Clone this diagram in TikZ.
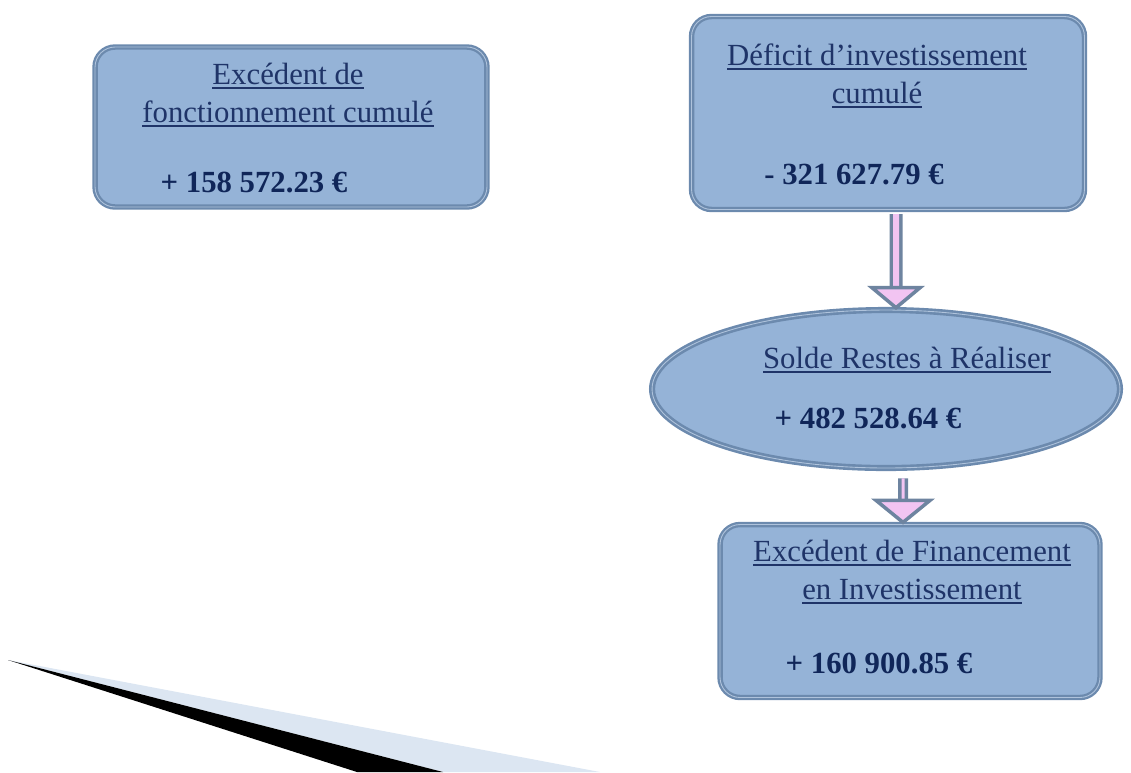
\documentclass[tikz,border=0pt]{standalone}
\usepackage{fontspec}
\setmainfont{Liberation Serif}
\usetikzlibrary{shapes.geometric}
\definecolor{BoxFill}{HTML}{95B3D7}
\definecolor{BoxEdge}{HTML}{6C8AAE}
\definecolor{BoxEdgeIn}{HTML}{AFC3DC}
\definecolor{TitleBlue}{HTML}{1F3468}
\definecolor{ValueBlue}{HTML}{102659}
\definecolor{ArrowEdge}{HTML}{6E84A0}
\definecolor{ArrowPink}{HTML}{F2C4F2}
\definecolor{WedgePale}{HTML}{DCE6F2}
\newcommand{\ulin}[1]{\setbox0\hbox{#1}\rlap{\rule[-2.4pt]{\wd0}{1pt}}\box0}

\begin{document}
\begin{tikzpicture}[x=0.02cm, y=-0.02cm,
                    every node/.style={inner sep=0pt},
                    box/.style={rectangle, rounded corners=0.4cm, fill=BoxFill,
                                draw=BoxEdge, double=BoxEdgeIn, double distance=0.5pt, line width=1.3pt},
                    oval/.style={ellipse, fill=BoxFill,
                                 draw=BoxEdge, double=BoxEdgeIn, double distance=0.5pt, line width=1.5pt},
                    title/.style={align=center, text=TitleBlue, font=\fontsize{17.5}{21.5}\selectfont},
                    value/.style={text=ValueBlue, font=\fontsize{17.5}{21.5}\selectfont\bfseries},
                    shaft/.style={draw=ArrowEdge, double=ArrowPink, line width=0.07cm, double distance=0.12cm},
                    head/.style={draw=ArrowEdge, fill=ArrowPink, line width=0.07cm, line join=miter}]
\useasboundingbox (0,0) rectangle (1131,772);

% wedge, bottom left
\fill[WedgePale] (8,660) -- (600,772) -- (443,772) -- cycle;
\fill[black] (8,660) -- (443,772) -- (357,772) -- cycle;

% left box
\node[box, minimum width=7.84cm, minimum height=3.2cm] (excfonct) at (291,127) {};
\node[title] (excfonctT) at (288,95) {\ulin{Excédent de}\\\ulin{fonctionnement cumulé}};
\node[value] (excfonctV) at (254,182) {+ 158 572.23 €};

% right column
\node[box, minimum width=7.86cm, minimum height=3.86cm] (deficit) at (888,113) {};
\node[title] (deficitT) at (877,76) {\ulin{Déficit d’investissement}\\\ulin{cumulé}};
\node[value] (deficitV) at (854,175) {- 321 627.79 €};

\node[oval, minimum width=9.36cm, minimum height=3.16cm] (solde) at (886,389) {};
\node[title] (soldeT) at (907,360) {\ulin{Solde Restes à Réaliser}};
\node[value] (soldeV) at (868,418) {+ 482 528.64 €};

\node[box, minimum width=7.6cm, minimum height=3.46cm] (excfin) at (910,611) {};
\node[title] (excfinT) at (912,572) {\ulin{Excédent de Financement}\\\ulin{en Investissement}};
\node[value] (excfinV) at (879,663) {+ 160 900.85 €};

% block arrows
\coordinate (h1) at ([xshift=0.2cm, yshift=0.42cm]solde.north);
\draw[shaft] ([xshift=0.16cm, yshift=-0.07cm]deficit.south) -- (h1);
\draw[head] ([xshift=-0.48cm]h1) -- ([xshift=0.48cm]h1) -- ([xshift=0.2cm, yshift=0.02cm]solde.north) -- cycle;

\coordinate (h2) at ([xshift=-0.14cm, yshift=0.46cm]excfin.north);
\draw[shaft, double distance=0.06cm] ([xshift=0.34cm, yshift=-0.18cm]solde.south) -- (h2);
\draw[head] ([xshift=-0.54cm]h2) -- ([xshift=0.54cm]h2) -- ([xshift=-0.14cm, yshift=0.02cm]excfin.north) -- cycle;
\end{tikzpicture}
\end{document}
